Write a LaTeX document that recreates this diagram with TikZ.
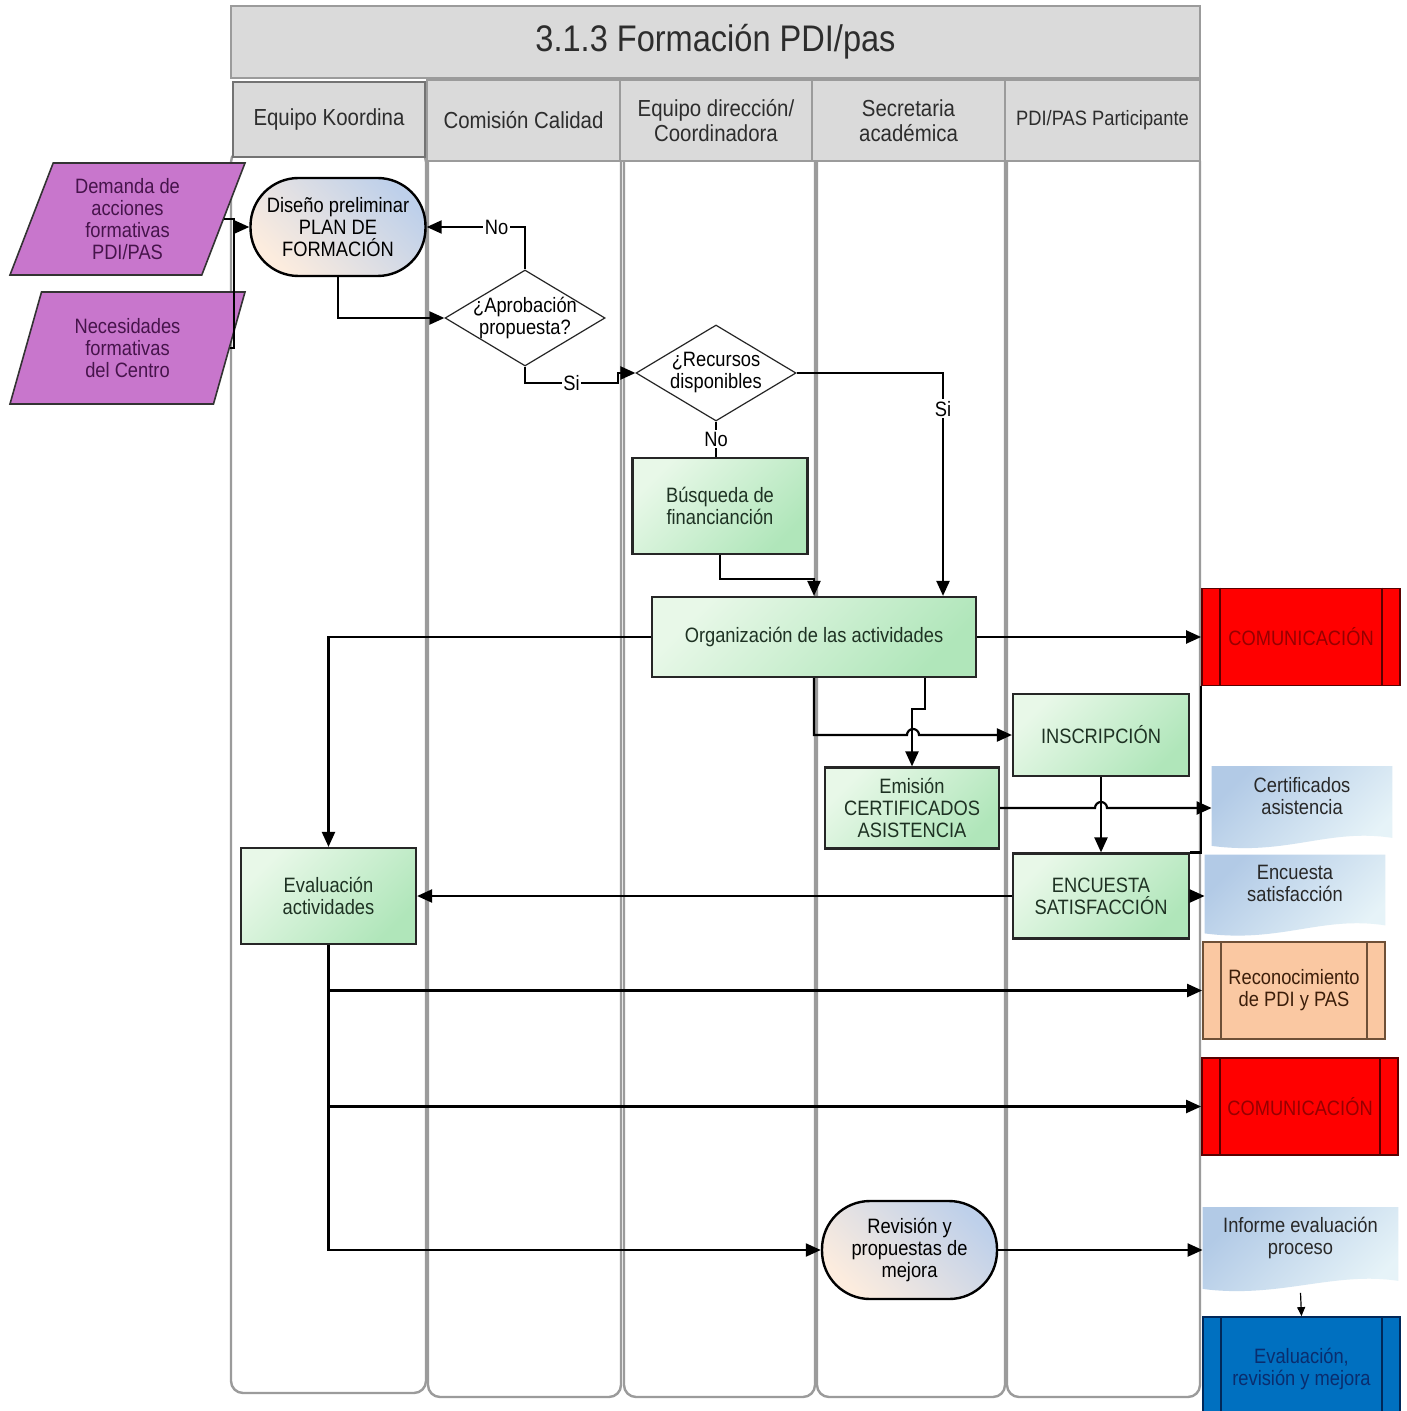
\documentclass[tikz,border=0pt]{standalone}
\usepackage{fontspec}
\setmainfont{Liberation Sans}[FakeStretch=0.88]
\usetikzlibrary{arrows.meta,shapes.geometric,shapes.misc,backgrounds,calc}

\definecolor{lanegray}{RGB}{155,155,155}
\definecolor{headfill}{RGB}{218,218,218}
\definecolor{headtext}{RGB}{45,45,45}
\definecolor{purp}{RGB}{200,118,204}
\definecolor{purptext}{RGB}{70,20,75}
\definecolor{grnA}{RGB}{232,248,232}
\definecolor{grnB}{RGB}{176,230,186}
\definecolor{grntext}{RGB}{30,50,35}
\definecolor{stpeach}{RGB}{252,236,222}
\definecolor{stblue}{RGB}{190,208,234}
\definecolor{docA}{RGB}{178,202,230}
\definecolor{docB}{RGB}{230,243,248}
\definecolor{doctext}{RGB}{40,40,40}
\definecolor{comred}{RGB}{255,0,0}
\definecolor{comtext}{RGB}{150,0,0}
\definecolor{comline}{RGB}{90,0,0}
\definecolor{recfill}{RGB}{250,200,162}
\definecolor{recline}{RGB}{110,80,55}
\definecolor{rectext}{RGB}{60,30,10}
\definecolor{evblue}{RGB}{0,112,192}
\definecolor{evline}{RGB}{0,40,90}
\definecolor{evtext}{RGB}{10,45,110}

\tikzset{
  base/.style={font=\fontsize{10.4}{11}\selectfont, align=center},
  lane/.style={draw=lanegray, line width=1.2pt, fill=white, rounded corners=6pt},
  lanehead/.style={draw=lanegray, line width=1pt, fill=headfill, text=headtext,
    font=\fontsize{11.6}{12.5}\selectfont, align=center, inner sep=0pt},
  dataio/.style={trapezium, trapezium left angle=62, trapezium right angle=118,
    trapezium stretches body, draw=black!80, line width=0.8pt, fill=purp,
    text=purptext, base, minimum width=117.5pt, minimum height=56pt, inner sep=0pt},
  terminal/.style={rectangle, rounded corners=24pt, draw=black, line width=1.2pt,
    top color=stblue, bottom color=stpeach, shading angle=-45, base,
    minimum width=87.5pt, minimum height=49pt, inner sep=0pt},
  decision/.style={diamond, draw=black!85, line width=0.6pt, fill=white,
    minimum width=80pt, minimum height=48pt, inner sep=0pt},
  process/.style={rectangle, draw=black!85, line width=1.1pt, top color=grnA,
    bottom color=grnB, shading angle=45, base, text=grntext, inner sep=0pt},
  docnode/.style={rectangle, inner sep=0pt, base},
  doctxt/.style={base, text=doctext},
  predef/.style={rectangle, line width=0.9pt, base, inner sep=0pt},
  line/.style={draw=black, line width=1.1pt},
  arr/.style={line, -{Triangle[length=7.5pt,width=6.5pt]}},
  thinarr/.style={draw=black, line width=0.6pt, -{Triangle[length=4.5pt,width=4pt]}},
  lbl/.style={base, fill=white, inner sep=0.8pt}
}

\begin{document}
\begin{tikzpicture}[x=0.5pt,y=-0.5pt]
\useasboundingbox (0,0) rectangle (1406,1411);

% swimlane bodies
\draw[lane] (231,150) rectangle (426,1393);
\draw[lane] (428,150) rectangle (621,1397);
\draw[lane] (624,150) rectangle (815,1397);
\draw[lane] (817,150) rectangle (1005,1397);
\draw[lane] (1007,150) rectangle (1200,1397);

% title and lane headers
\node[lanehead, minimum width=484.5pt, minimum height=36pt,
  font=\fontsize{18.5}{20}\selectfont] (title) at (715.5,42) {3.1.3 Formación PDI/pas};
\node[lanehead, draw=black!55, minimum width=96pt, minimum height=37.5pt] (h1) at (329,119.5) {Equipo Koordina};
\node[lanehead, minimum width=96.5pt, minimum height=40.5pt] (h2) at (523.5,120.5) {Comisión Calidad};
\node[lanehead, minimum width=96pt, minimum height=40.5pt] (h3) at (716,120.5) {Equipo dirección/\\Coordinadora};
\node[lanehead, minimum width=96.5pt, minimum height=40.5pt] (h4) at (908.5,120.5) {Secretaria\\académica};
\node[lanehead, minimum width=97.5pt, minimum height=40.5pt,
  font=\fontsize{10.4}{11}\selectfont] (h5) at (1102.5,120.5) {PDI/PAS Participante};

% inputs
\node[dataio] (dem) at (127.5,219) {Demanda de\\acciones\\formativas\\PDI/PAS};
\node[dataio] (nec) at (127.5,348) {Necesidades\\formativas\\del Centro};

% process steps
\node[terminal] (dis) at (338,227) {Diseño preliminar\\PLAN DE\\FORMACIÓN};
\node[decision, label={[base]center:{¿Aprobación\\propuesta?}}] (apr) at (525,318) {};
\node[decision, label={[base]center:{¿Recursos\\disponibles}}] (rec) at (716,373) {};
\node[process, minimum width=87.5pt, minimum height=48pt] (bus) at (720,506) {Búsqueda de\\financianción};
\node[process, minimum width=162pt, minimum height=40pt] (org) at (814,637) {Organización de las actividades};
\node[process, minimum width=88pt, minimum height=41pt] (ins) at (1101,735) {INSCRIPCIÓN};
\node[process, minimum width=87pt, minimum height=40.5pt] (emi) at (912,808) {Emisión\\CERTIFICADOS\\ASISTENCIA};
\node[process, minimum width=88pt, minimum height=42.5pt] (enc) at (1101,896) {ENCUESTA\\SATISFACCIÓN};
\node[process, minimum width=87.5pt, minimum height=48pt] (eva) at (328.5,896) {Evaluación\\actividades};
\node[terminal] (revi) at (909.5,1250) {Revisión y\\propuestas de\\mejora};

% outputs
\node[predef, fill=comred, draw=comline, text=comtext, minimum width=99pt, minimum height=48.5pt] (com1) at (1301,637) {COMUNICACIÓN};
\node[docnode, minimum width=90pt, minimum height=41.5pt,
  label={[doctxt, yshift=6pt]center:{Certificados\\asistencia}}] (cert) at (1302,808) {};
\node[docnode, minimum width=90pt, minimum height=41pt,
  label={[doctxt, yshift=6.5pt]center:{Encuesta\\satisfacción}}] (encd) at (1295,896) {};
\node[predef, fill=recfill, draw=recline, text=rectext, minimum width=91pt, minimum height=48.5pt] (reco) at (1294,990.5) {Reconocimiento\\de PDI y PAS};
\node[predef, fill=comred, draw=comline, text=comtext, minimum width=98pt, minimum height=48.5pt] (com2) at (1300,1106.5) {COMUNICACIÓN};
\node[docnode, minimum width=97.5pt, minimum height=42.5pt,
  label={[doctxt, yshift=6pt]center:{Informe evaluación\\proceso}}] (inf) at (1300.5,1250) {};
\node[predef, fill=evblue, draw=evline, text=evtext, minimum width=98.5pt, minimum height=52pt] (evm) at (1301.5,1369) {Evaluación,\\revisión y mejora};

% inner bars of the predefined-process boxes
\foreach \n/\c in {com1/comline, com2/comline, reco/recline, evm/evline}
  \draw[draw=\c, line width=0.9pt]
    ([xshift=9.5pt]\n.north west) -- ([xshift=9.5pt]\n.south west)
    ([xshift=-9.5pt]\n.north east) -- ([xshift=-9.5pt]\n.south east);

% page ground and document shapes with wavy lower edge
\begin{scope}[on background layer]
\fill[white] (0,0) rectangle (1406,1411);
\foreach \d in {cert,encd,inf}
  \shade[top color=docA, bottom color=docB, shading angle=45]
    (\d.north west) -- (\d.north east) -- ([yshift=6pt]\d.south east)
    .. controls ([xshift=-32pt,yshift=11pt]\d.south east) and ([xshift=38pt,yshift=-3pt]\d.south west)
    .. ([yshift=2pt]\d.south west) -- cycle;
\end{scope}

% connectors
\coordinate (jn) at (234,227);
\draw[line] (dem.east) -- (dem.east -| jn) -- (nec.east -| jn) -- (nec.east);
\draw[arr] (jn) -- (dis.west);
\draw[arr] (dis.south) |- (apr.west);
\draw[arr] (apr.north) |- node[lbl, pos=0.645] {No} (dis.east);
\coordinate (si1) at (525,383);
\coordinate (si2) at (618,383);
\draw[arr] (apr.south) -- (si1) -- node[lbl] {Si} (si2) -- (si2 |- rec.west) -- (rec.west);
\draw[line] (rec.south) -- node[lbl] {No} (rec.south |- bus.north);
\draw[arr] (rec.east) -| node[lbl, pos=0.58] {Si} ([xshift=64.5pt]org.north);
\draw[arr] (bus.south) -- ++(0pt,-12pt) -| (org.north);
\draw[arr] (org.west) -| (eva.north);
\draw[arr] (org.east) -- (com1.west);
\coordinate (hA) at (913,735);
\draw[arr] (org.south) |- ([xshift=-3pt]hA) arc[start angle=180, end angle=0, radius=3pt] -- (ins.west);
\draw[arr] ([xshift=55.5pt]org.south) -- ++(0pt,-15.5pt) -| (emi.north);
\draw[arr] (ins.south) -- (enc.north);
\coordinate (hB) at (ins.south |- emi.east);
\draw[arr] (emi.east) -- ([xshift=-3pt]hB) arc[start angle=180, end angle=0, radius=3pt] -- (cert.west);
\draw[arr] (enc.west) -- (eva.east);
\draw[arr] (enc.east) -- (encd.west);
\draw[line] (enc.north east) -| (com1.south west);
\coordinate (b1) at (eva.south |- reco.west);
\coordinate (b2) at (eva.south |- com2.west);
\draw[arr] (eva.south) |- (revi.west);
\draw[arr] (b1) -- (reco.west);
\draw[arr] (b2) -- (com2.west);
\draw[arr] (revi.east) -- (inf.west);
\draw[thinarr] (inf.south) -- (evm.north);
\end{tikzpicture}
\end{document}
